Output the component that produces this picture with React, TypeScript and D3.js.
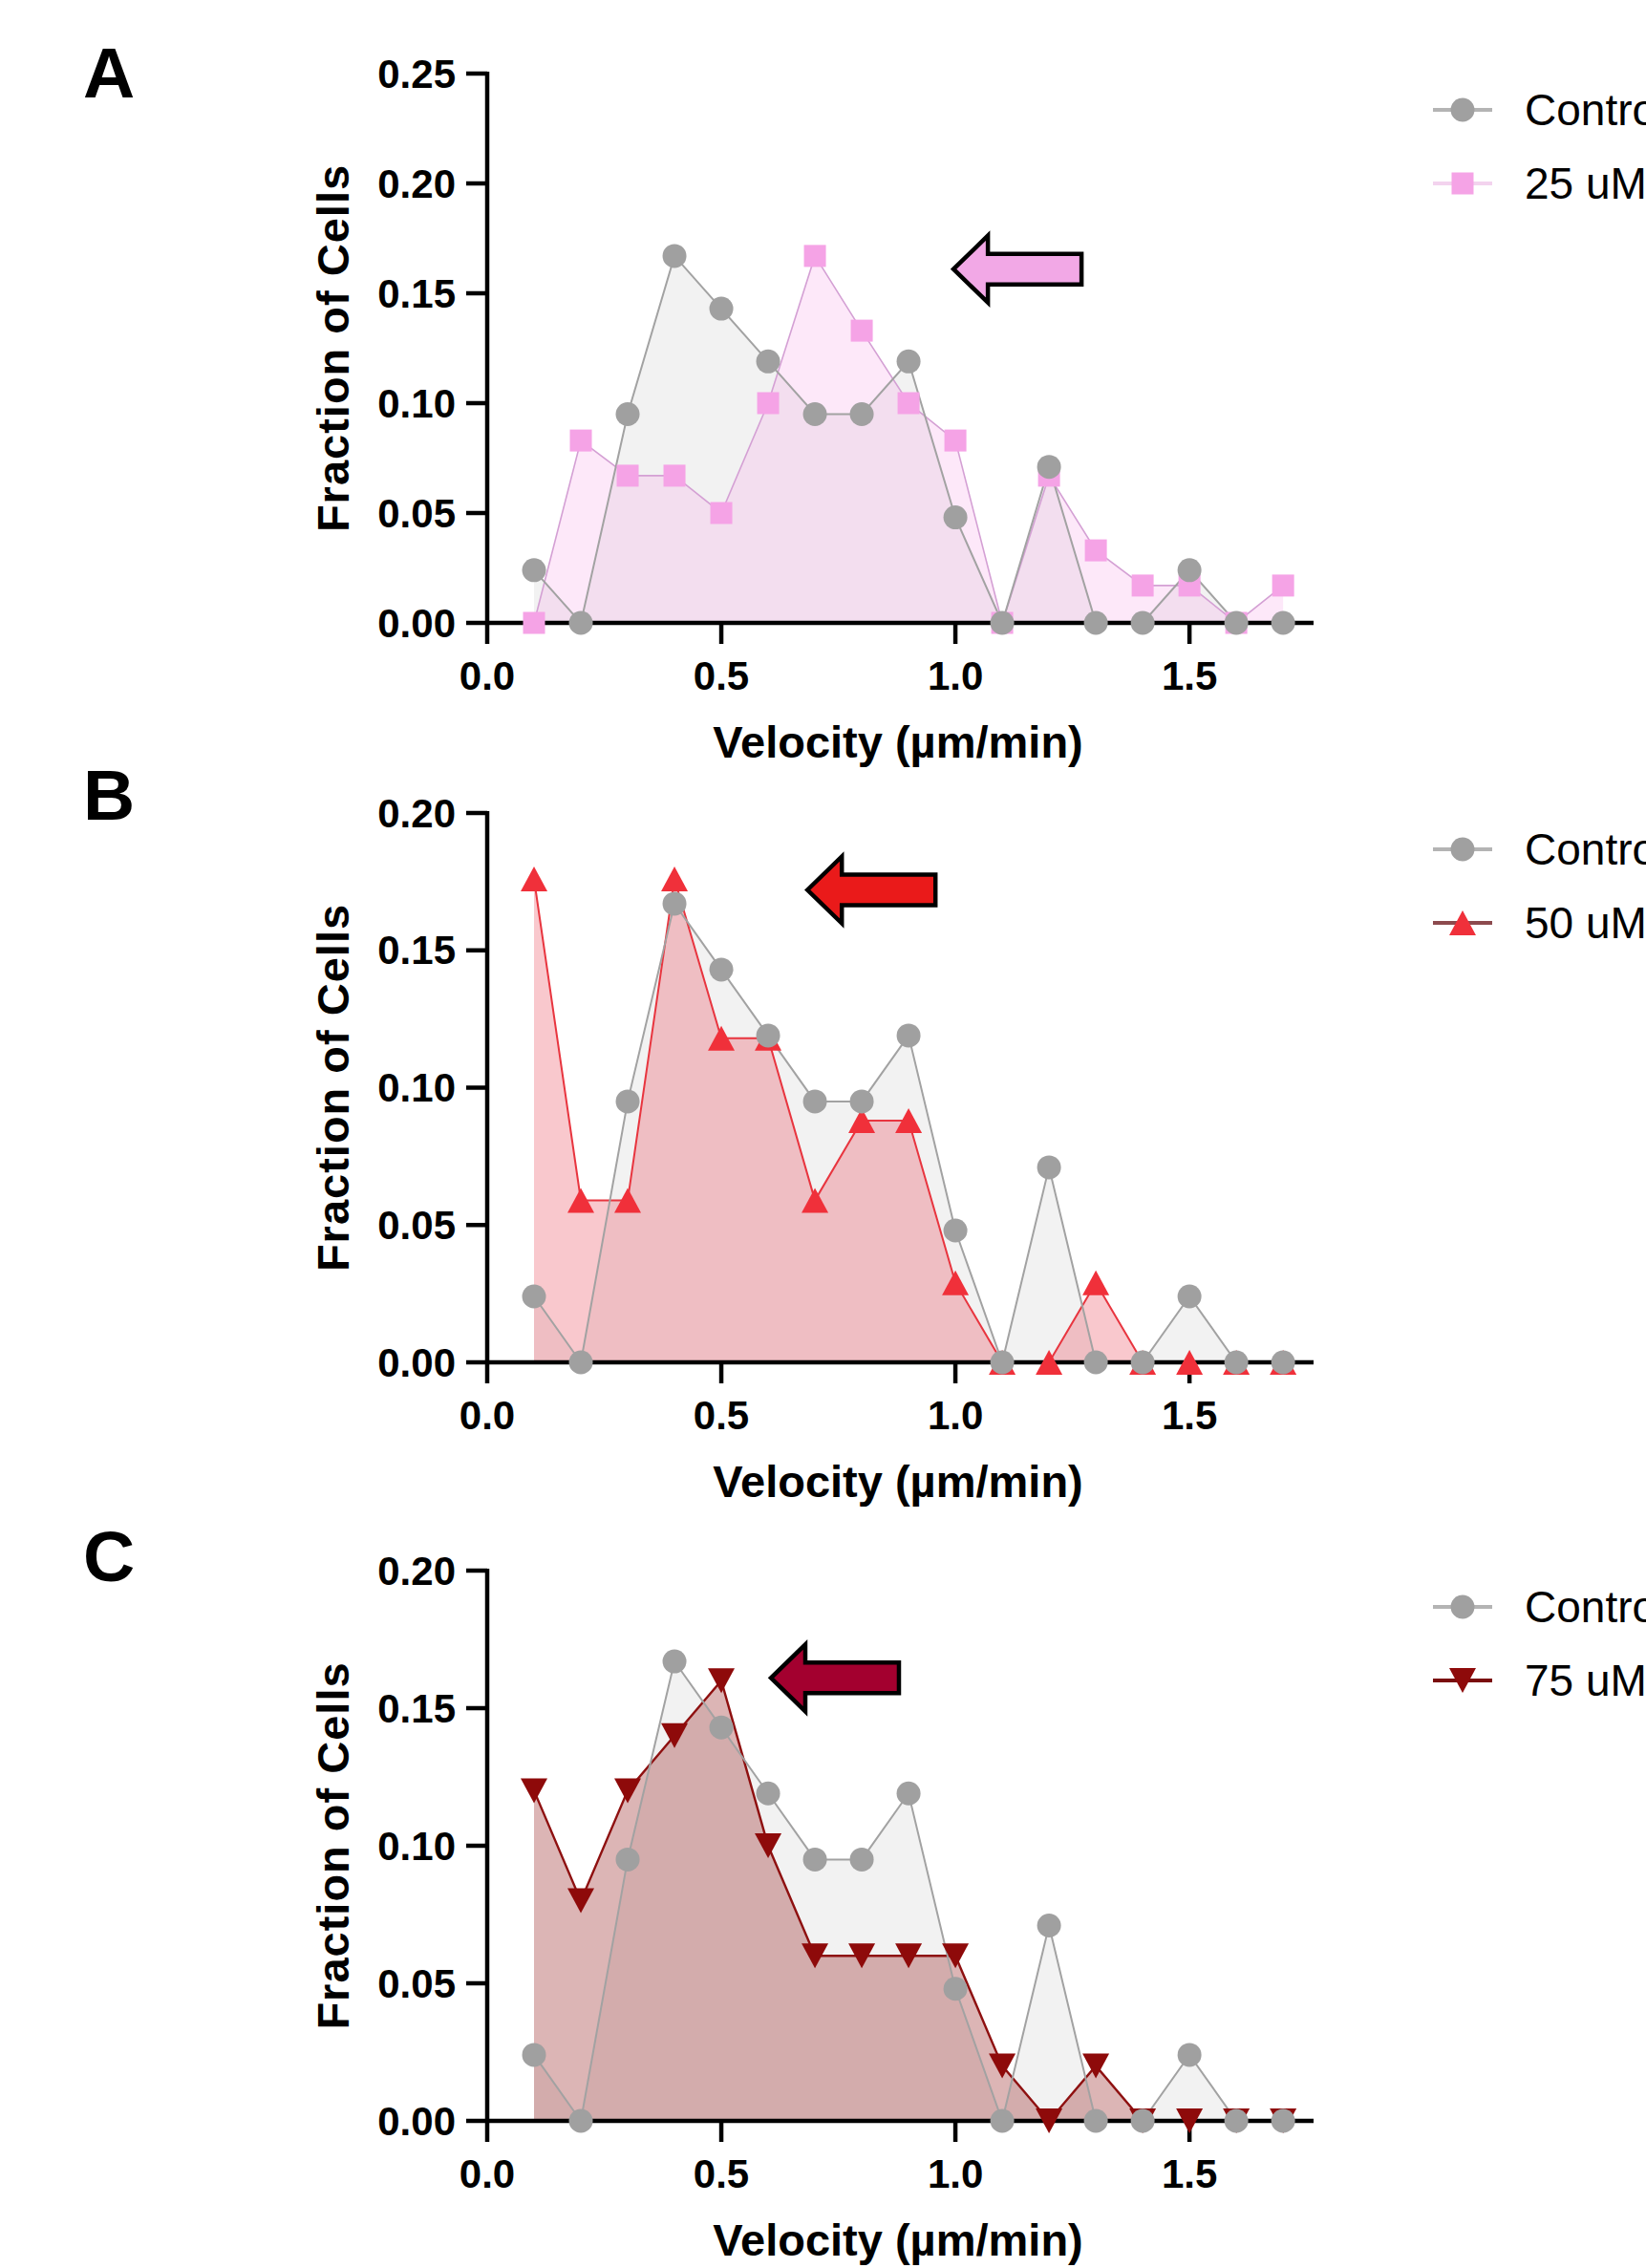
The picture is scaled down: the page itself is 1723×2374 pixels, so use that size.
import React from 'react';
import * as d3 from 'd3';

// velocity bins (µm/min)
const velocity = [0.1, 0.2, 0.3, 0.4, 0.5, 0.6, 0.7, 0.8, 0.9, 1.0, 1.1, 1.2, 1.3, 1.4, 1.5, 1.6, 1.7];

// fraction of cells per bin
const control = [0.024, 0, 0.095, 0.167, 0.143, 0.119, 0.095, 0.095, 0.119, 0.048, 0, 0.071, 0, 0, 0.024, 0, 0];
const uM25 = [0, 0.083, 0.067, 0.067, 0.05, 0.1, 0.167, 0.133, 0.1, 0.083, 0, 0.067, 0.033, 0.017, 0.017, 0, 0.017];
const uM50 = [0.176, 0.059, 0.059, 0.176, 0.118, 0.118, 0.059, 0.088, 0.088, 0.029, 0, 0, 0.029, 0, 0, 0, 0];
const uM75 = [0.12, 0.08, 0.12, 0.14, 0.16, 0.1, 0.06, 0.06, 0.06, 0.06, 0.02, 0, 0.02, 0, 0, 0, 0];

const xTicks = [0, 0.5, 1.0, 1.5];
const yTicksA = [0, 0.05, 0.1, 0.15, 0.2, 0.25];
const yTicksBC = [0, 0.05, 0.1, 0.15, 0.2];

const FONT = '"Liberation Sans", Arial, Helvetica, sans-serif';
const W = 1723;
const H = 2374;
const left = 510;
const right = 1375;

type Panel = {
  letter: string;
  letterY: number;
  top: number;
  bottom: number;
  yMax: number;
  yTicks: number[];
  name: string;
  values: number[];
  marker: 'square' | 'up' | 'down';
  markerFill: string;
  lineColor: string;
  lineWidth: number;
  areaFill: string;
  legendLine: string;
  arrow: { x: number; y: number; fill: string };
};

const panels: Panel[] = [
  {
    letter: 'A', letterY: 102, top: 77, bottom: 652, yMax: 0.25, yTicks: yTicksA,
    name: '25 uM', values: uM25, marker: 'square', markerFill: '#f5a3e6',
    lineColor: '#d4a0d4', lineWidth: 1.6, areaFill: 'rgba(247,160,232,0.24)', legendLine: '#f3d3ee',
    arrow: { x: 0.996, y: 0.161, fill: '#f2a8e6' },
  },
  {
    letter: 'B', letterY: 858, top: 851, bottom: 1426, yMax: 0.2, yTicks: yTicksBC,
    name: '50 uM', values: uM50, marker: 'up', markerFill: '#f0303a',
    lineColor: '#e8353f', lineWidth: 2, areaFill: 'rgba(232,50,70,0.27)', legendLine: '#8c4a4e',
    arrow: { x: 0.684, y: 0.172, fill: '#ea1a1a' },
  },
  {
    letter: 'C', letterY: 1655, top: 1644, bottom: 2220, yMax: 0.2, yTicks: yTicksBC,
    name: '75 uM', values: uM75, marker: 'down', markerFill: '#8e0a0a',
    lineColor: '#8e1010', lineWidth: 2.4, areaFill: 'rgba(139,10,10,0.3)', legendLine: '#7a0d0d',
    arrow: { x: 0.606, y: 0.161, fill: '#a3002f' },
  },
];

function Marker({ kind, x, y, fill }: { kind: string; x: number; y: number; fill: string }) {
  if (kind === 'circle') return <circle cx={x} cy={y} r={12.5} fill={fill} />;
  if (kind === 'square') return <rect x={x - 11.5} y={y - 11.5} width={23} height={23} fill={fill} />;
  if (kind === 'up')
    return <path d={`M${x},${y - 13}L${x + 14},${y + 13}L${x - 14},${y + 13}Z`} fill={fill} />;
  return <path d={`M${x},${y + 13}L${x + 14},${y - 13}L${x - 14},${y - 13}Z`} fill={fill} />;
}

function Arrow({ x, y, fill }: { x: number; y: number; fill: string }) {
  // left-pointing block arrow, tip at (x, y)
  const d = `M${x},${y}L${x + 36},${y - 35}L${x + 36},${y - 16}L${x + 134},${y - 16}L${x + 134},${y + 16}L${x + 36},${y + 16}L${x + 36},${y + 35}Z`;
  return <path d={d} fill={fill} stroke="#000" strokeWidth={4.5} strokeLinejoin="miter" />;
}

function PanelChart({ p }: { p: Panel }) {
  const x = d3.scaleLinear([0, 1.765], [left, right]);
  const y = d3.scaleLinear([0, p.yMax], [p.bottom, p.top]);
  const area = d3.area<number>().x((_, i) => x(velocity[i])).y0(y(0)).y1((d) => y(d));
  const line = d3.line<number>().x((_, i) => x(velocity[i])).y((d) => y(d));
  const legY1 = p.top + 38;
  const legY2 = p.top + 115;
  const midY = (p.top + p.bottom) / 2;

  return (
    <g>
      <text x={87} y={p.letterY} fontFamily={FONT} fontWeight="bold" fontSize={75}>{p.letter}</text>

      {/* areas */}
      <path d={area(control) ?? ''} fill="rgba(160,160,160,0.14)" />
      <path d={area(p.values) ?? ''} fill={p.areaFill} />

      {/* lines */}
      <path d={line(p.values) ?? ''} fill="none" stroke={p.lineColor} strokeWidth={p.lineWidth} />
      <path d={line(control) ?? ''} fill="none" stroke="#a2a2a2" strokeWidth={2} />

      {/* axes */}
      <line x1={left} x2={right} y1={y(0)} y2={y(0)} stroke="#000" strokeWidth={4.5} />
      <line x1={left} x2={left} y1={p.top - 2} y2={y(0) + 2} stroke="#000" strokeWidth={4.5} />
      {p.yTicks.map((t) => (
        <g key={t}>
          <line x1={left - 22} x2={left} y1={y(t)} y2={y(t)} stroke="#000" strokeWidth={4.5} />
          <text x={left - 33} y={y(t)} textAnchor="end" dominantBaseline="central"
            fontFamily={FONT} fontWeight="bold" fontSize={42}>{t.toFixed(2)}</text>
        </g>
      ))}
      {xTicks.map((t) => (
        <g key={t}>
          <line x1={x(t)} x2={x(t)} y1={y(0)} y2={y(0) + 22} stroke="#000" strokeWidth={4.5} />
          <text x={x(t)} y={y(0) + 70} textAnchor="middle"
            fontFamily={FONT} fontWeight="bold" fontSize={42}>{t.toFixed(1)}</text>
        </g>
      ))}
      <text x={940} y={y(0) + 141} textAnchor="middle" fontFamily={FONT} fontWeight="bold" fontSize={47}>
        Velocity (µm/min)
      </text>
      <text transform={`translate(348,${midY}) rotate(-90)`} textAnchor="middle" dominantBaseline="central"
        fontFamily={FONT} fontWeight="bold" fontSize={47} letterSpacing={1}>
        Fraction of Cells
      </text>

      {/* markers: treatment below, control on top */}
      {p.values.map((v, i) => (
        <Marker key={`t${i}`} kind={p.marker} x={x(velocity[i])} y={y(v)} fill={p.markerFill} />
      ))}
      {control.map((v, i) => (
        <Marker key={`c${i}`} kind="circle" x={x(velocity[i])} y={y(v)} fill="#a0a0a0" />
      ))}

      <Arrow x={x(p.arrow.x)} y={y(p.arrow.y)} fill={p.arrow.fill} />

      {/* legend (cut off by the right edge, as in the original figure) */}
      <line x1={1500} x2={1562} y1={legY1} y2={legY1} stroke="#b4b4b4" strokeWidth={4} />
      <Marker kind="circle" x={1531} y={legY1} fill="#a0a0a0" />
      <text x={1596} y={legY1 + 16} fontFamily={FONT} fontSize={46}>Control</text>
      <line x1={1500} x2={1562} y1={legY2} y2={legY2} stroke={p.legendLine} strokeWidth={4} />
      <Marker kind={p.marker} x={1531} y={legY2} fill={p.markerFill} />
      <text x={1596} y={legY2 + 16} fontFamily={FONT} fontSize={46}>{p.name}</text>
    </g>
  );
}

export default function App() {
  return (
    <svg width={W} height={H} style={{ position: 'absolute', left: 0, top: 0, background: '#fff' }}>
      <rect width={W} height={H} fill="#fff" />
      {panels.map((p) => (
        <PanelChart key={p.letter} p={p} />
      ))}
    </svg>
  );
}
